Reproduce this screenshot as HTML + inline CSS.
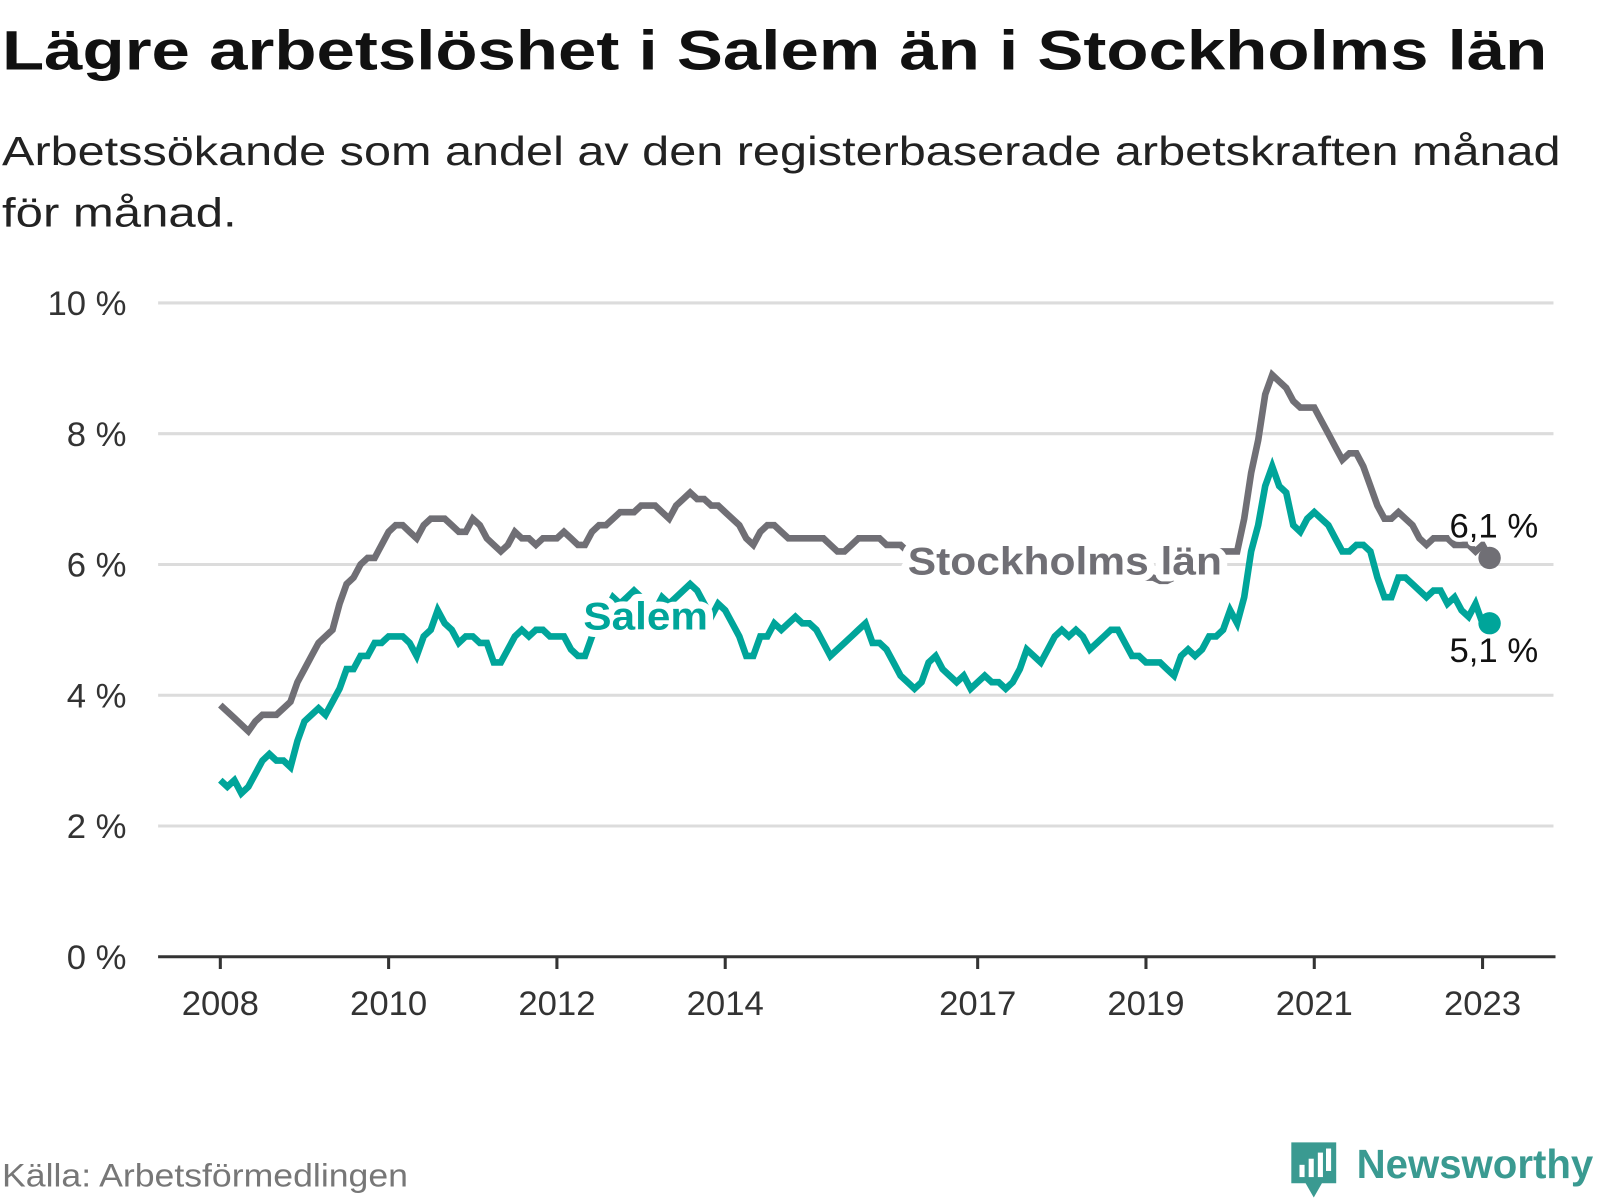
<!DOCTYPE html>
<html><head><meta charset="utf-8"><style>
body{margin:0;background:#fff;width:1600px;height:1200px;overflow:hidden}
svg{display:block;font-family:"Liberation Sans","DejaVu Sans",sans-serif}
</style></head><body>
<svg id="chart" width="1600" height="1200">
<g transform="scale(1.02)">
<text x="2" y="68" font-size="55" font-weight="bold" fill="#111" textLength="1515" lengthAdjust="spacingAndGlyphs">Lägre arbetslöshet i Salem än i Stockholms län</text>
<text x="2" y="162" font-size="40" fill="#222" textLength="1528" lengthAdjust="spacingAndGlyphs">Arbetssökande som andel av den registerbaserade arbetskraften månad</text>
<text x="2" y="222" font-size="40" fill="#222" textLength="230" lengthAdjust="spacingAndGlyphs">för månad.</text>
<g id="grid"></g><g id="xaxis"></g><g id="lines"></g><g id="labels"></g>
<text x="2" y="1163" font-size="32" fill="#777" textLength="398" lengthAdjust="spacingAndGlyphs">Källa: Arbetsförmedlingen</text>
<g>
<path d="M1266 1120 h44 v40 h-14 l-8 14 l-8 -14 h-14 z" fill="#3a9a91"/>
<rect x="1274" y="1142" width="5" height="12" fill="#fff"/><rect x="1283" y="1136" width="5" height="18" fill="#fff"/><rect x="1292" y="1130" width="5" height="24" fill="#fff"/><rect x="1300" y="1126" width="5" height="22" fill="#fff"/>
<text x="1330" y="1155" font-size="40" font-weight="bold" fill="#3a9a91" textLength="232" lengthAdjust="spacingAndGlyphs">Newsworthy</text>
</g>
</g>
</svg>
<script>
const yTicks=[0,2,4,6,8,10];
const xTickYears=[2008,2010,2012,2014,2017,2019,2021,2023];
const startYear=2008;
const stockholm=[3.85,3.75,3.65,3.55,3.45,3.6,3.7,3.7,3.7,3.8,3.9,4.2,
4.4,4.6,4.8,4.9,5.0,5.4,5.7,5.8,6.0,6.1,6.1,6.3,
6.5,6.6,6.6,6.5,6.4,6.6,6.7,6.7,6.7,6.6,6.5,6.5,
6.7,6.6,6.4,6.3,6.2,6.3,6.5,6.4,6.4,6.3,6.4,6.4,
6.4,6.5,6.4,6.3,6.3,6.5,6.6,6.6,6.7,6.8,6.8,6.8,
6.9,6.9,6.9,6.8,6.7,6.9,7.0,7.1,7.0,7.0,6.9,6.9,
6.8,6.7,6.6,6.4,6.3,6.5,6.6,6.6,6.5,6.4,6.4,6.4,
6.4,6.4,6.4,6.3,6.2,6.2,6.3,6.4,6.4,6.4,6.4,6.3,
6.3,6.3,6.2,6.1,6.0,6.1,6.1,6.0,6.0,5.9,5.9,5.9,
5.9,5.9,5.9,5.9,5.9,5.9,5.9,5.9,5.9,5.9,5.9,5.9,
5.9,5.9,5.9,5.9,5.9,5.9,5.9,5.9,5.9,5.85,5.8,5.8,
5.8,5.8,5.75,5.75,5.8,5.9,6.0,6.0,6.1,6.2,6.2,6.2,
6.2,6.2,6.7,7.4,7.9,8.6,8.9,8.8,8.7,8.5,8.4,8.4,
8.4,8.2,8.0,7.8,7.6,7.7,7.7,7.5,7.2,6.9,6.7,6.7,
6.8,6.7,6.6,6.4,6.3,6.4,6.4,6.4,6.3,6.3,6.3,6.2,
6.3,6.1];
const salem=[2.7,2.6,2.7,2.5,2.6,2.8,3.0,3.1,3.0,3.0,2.9,3.3,
3.6,3.7,3.8,3.7,3.9,4.1,4.4,4.4,4.6,4.6,4.8,4.8,
4.9,4.9,4.9,4.8,4.6,4.9,5.0,5.3,5.1,5.0,4.8,4.9,
4.9,4.8,4.8,4.5,4.5,4.7,4.9,5.0,4.9,5.0,5.0,4.9,
4.9,4.9,4.7,4.6,4.6,4.9,5.1,5.3,5.5,5.4,5.5,5.6,
5.5,5.4,5.3,5.5,5.4,5.5,5.6,5.7,5.6,5.4,5.2,5.4,
5.3,5.1,4.9,4.6,4.6,4.9,4.9,5.1,5.0,5.1,5.2,5.1,
5.1,5.0,4.8,4.6,4.7,4.8,4.9,5.0,5.1,4.8,4.8,4.7,
4.5,4.3,4.2,4.1,4.2,4.5,4.6,4.4,4.3,4.2,4.3,4.1,
4.2,4.3,4.2,4.2,4.1,4.2,4.4,4.7,4.6,4.5,4.7,4.9,
5.0,4.9,5.0,4.9,4.7,4.8,4.9,5.0,5.0,4.8,4.6,4.6,
4.5,4.5,4.5,4.4,4.3,4.6,4.7,4.6,4.7,4.9,4.9,5.0,
5.3,5.1,5.5,6.2,6.6,7.2,7.5,7.2,7.1,6.6,6.5,6.7,
6.8,6.7,6.6,6.4,6.2,6.2,6.3,6.3,6.2,5.8,5.5,5.5,
5.8,5.8,5.7,5.6,5.5,5.6,5.6,5.4,5.5,5.3,5.2,5.4,
5.1,5.1];
const NS='http://www.w3.org/2000/svg';
const y=v=>938-v*64.1;
const x=i=>216+i*82.5/12;
const xYear=yr=>216+(yr-startYear)*82.5;
function mk(tag,attrs,parent,text){const e=document.createElementNS(NS,tag);for(const k in attrs)e.setAttribute(k,attrs[k]);if(text!==undefined)e.textContent=text;parent.appendChild(e);return e;}
const grid=document.getElementById('grid');
yTicks.forEach(v=>{
 if(v>0){const l=mk('line',{x1:155,x2:1523,y1:y(v),y2:y(v),stroke:'#dcdcdc','stroke-width':3},grid);
 
 }
 const t=mk('text',{x:124,y:y(v)+12,'text-anchor':'end','font-size':34,fill:'#333'},grid,v+' %');
 
 
});
const xa=document.getElementById('xaxis');
const ax=mk('line',{x1:155,x2:1525,y1:938,y2:938,stroke:'#333','stroke-width':3},xa);


xTickYears.forEach(yr=>{
 const tk=mk('line',{x1:xYear(yr),x2:xYear(yr),y1:938,y2:950,stroke:'#333','stroke-width':3},xa);
 
 
 const t=mk('text',{x:xYear(yr),y:995,'text-anchor':'middle','font-size':34,fill:'#333'},xa,String(yr));
 
 
});
const lines=document.getElementById('lines');
function series(arr,color,name){
 const d=arr.map((v,i)=>(i?'L':'M')+x(i).toFixed(1)+' '+y(v).toFixed(1)).join(' ');
 const p=mk('path',{d:d,fill:'none',stroke:color,'stroke-width':6.5,'stroke-linejoin':'miter'},lines);
 
 
 const n=arr.length-1;
 const c=mk('circle',{cx:x(n),cy:y(arr[n]),r:11,fill:color},lines);
 
 
}
series(stockholm,'#706f75','stockholm');
series(salem,'#00a59a','salem');
const lb=document.getElementById('labels');
function label(txt,xx,yy,color,bold,name,anchor,w){
 const a={x:xx,y:yy,'font-size':bold?38:34,'font-weight':bold?'bold':'normal',fill:color,stroke:'#fff','stroke-width':bold?14:8,'paint-order':'stroke','stroke-linejoin':'round','text-anchor':anchor||'start'};
 if(w){a.textLength=w;a.lengthAdjust='spacingAndGlyphs';}
 const t=mk('text',a,lb,txt);
 
 
}
label('Stockholms län',890,563,'#706f75',true,'stockholm-series-label','start',308);
label('Salem',572,617,'#00a59a',true,'salem-series-label','start',122);
const n=stockholm.length-1;
label(String(stockholm[n]).replace('.',',')+' %',1508,y(stockholm[n])-20,'#111',false,'stockholm-end-value','end');
label(String(salem[n]).replace('.',',')+' %',1508,y(salem[n])+38,'#111',false,'salem-end-value','end');
</script>
</body></html>
